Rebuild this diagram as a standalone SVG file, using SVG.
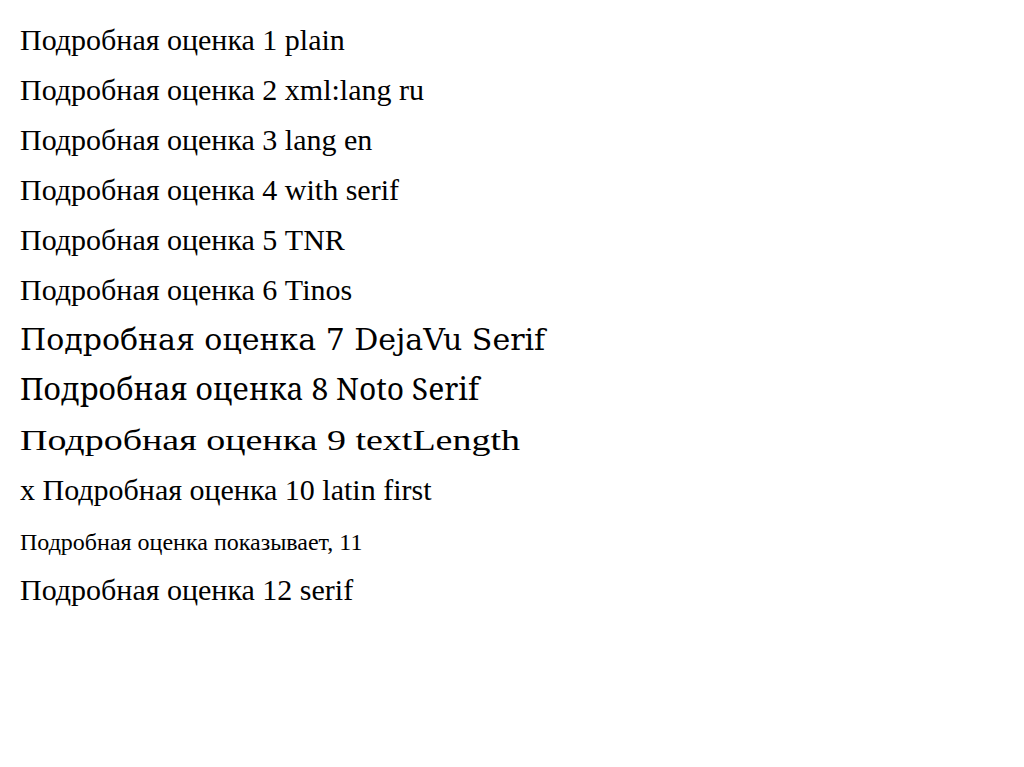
<svg xmlns="http://www.w3.org/2000/svg" width="1024" height="767" viewBox="0 0 1024 767">
<rect width="1024" height="767" fill="#fff"/>
<text x="20" y="50" font-family="'Liberation Serif'" font-size="30">Подробная оценка 1 plain</text>
<text x="20" y="100" font-family="'Liberation Serif'" font-size="30" xml:lang="ru">Подробная оценка 2 xml:lang ru</text>
<text x="20" y="150" font-family="'Liberation Serif'" font-size="30" lang="en">Подробная оценка 3 lang en</text>
<text x="20" y="200" font-family="'Liberation Serif', serif" font-size="30">Подробная оценка 4 with serif</text>
<text x="20" y="250" font-family="'Times New Roman'" font-size="30">Подробная оценка 5 TNR</text>
<text x="20" y="300" font-family="Tinos" font-size="30">Подробная оценка 6 Tinos</text>
<text x="20" y="350" font-family="'DejaVu Serif'" font-size="30">Подробная оценка 7 DejaVu Serif</text>
<text x="20" y="400" font-family="'Noto Serif'" font-size="30">Подробная оценка 8 Noto Serif</text>
<text x="20" y="450" font-family="'Liberation Serif'" font-size="30" textLength="500" lengthAdjust="spacingAndGlyphs">Подробная оценка 9 textLength</text>
<text x="20" y="500" font-family="'Liberation Serif'" font-size="30">x Подробная оценка 10 latin first</text>
<text x="20" y="550" font-family="'Liberation Serif'" font-size="24">Подробная оценка показывает, 11</text>
<text x="20" y="600" font-family="serif" font-size="30">Подробная оценка 12 serif</text>
</svg>
